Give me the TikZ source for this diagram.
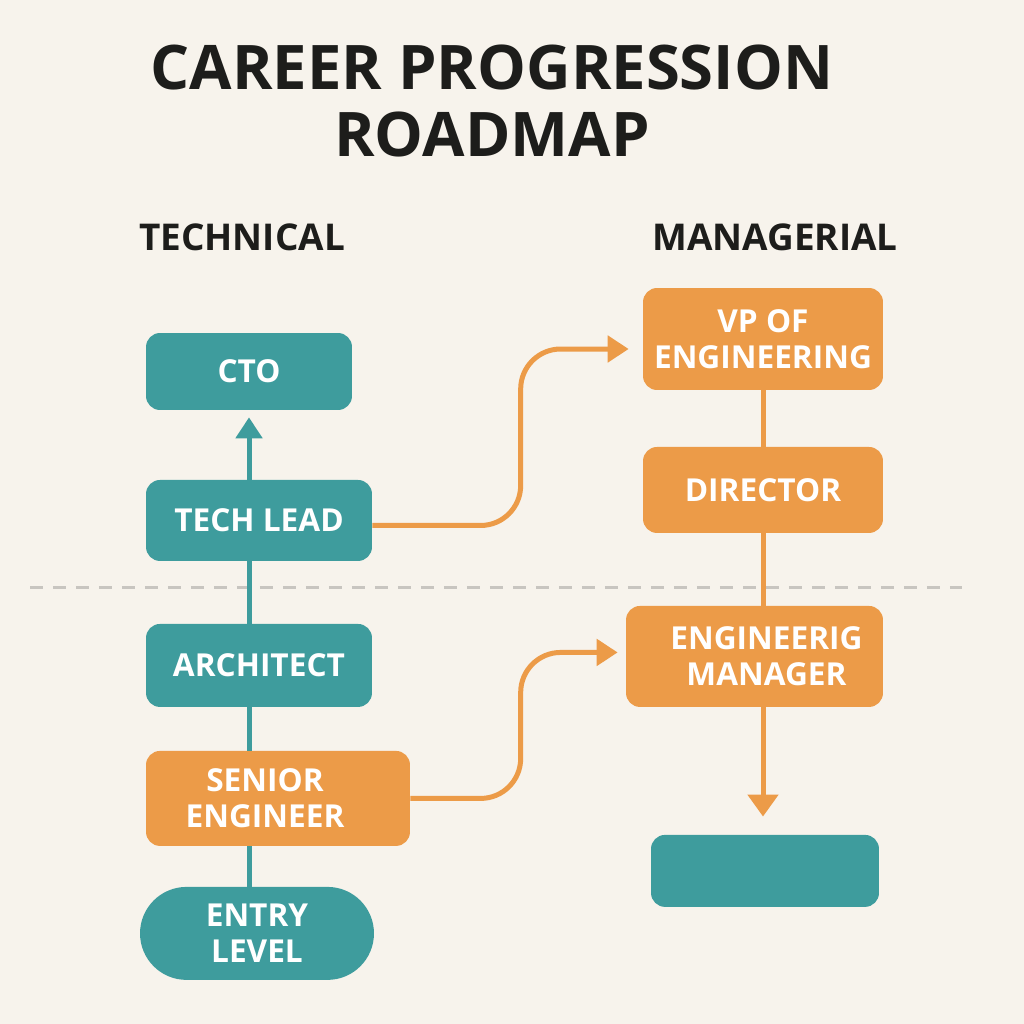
\documentclass[tikz,border=0pt]{standalone}
\usepackage{fontspec}
\setmainfont{Open Sans}
\usetikzlibrary{arrows.meta,positioning,calc}
\definecolor{techteal}{HTML}{3E9C9D}
\definecolor{mgrorange}{HTML}{EC9B48}
\definecolor{paper}{HTML}{F7F3EC}
\definecolor{ink}{HTML}{1D1D1B}
\definecolor{divider}{HTML}{C8C5C0}
\tikzset{
  basic/.style    = {rectangle, inner sep=0pt, align=center, text=white,
                     font=\fontsize{18}{20.5}\selectfont\bfseries},
  techbox/.style  = {basic, fill=techteal, rounded corners=0.28cm},
  mgrbox/.style   = {basic, fill=mgrorange, rounded corners=0.28cm},
  heading/.style  = {text=ink, font=\fontsize{21}{24}\selectfont\bfseries},
  maintitle/.style = {text=ink, align=center,
                     font=\fontsize{35}{38}\selectfont\bfseries},
  tline/.style    = {draw=techteal, line width=0.1cm},
  oline/.style    = {draw=mgrorange, line width=0.1cm}
}
\begin{document}
\begin{tikzpicture}[x=0.02cm, y=-0.02cm,
  >={Triangle[length=0.42cm, width=0.52cm]}]

\fill[paper] (0,0) rectangle (1024,1024);
\useasboundingbox (0,0) rectangle (1024,1024);

% titles
\node[maintitle] (title) at (492,101) {CAREER PROGRESSION\\ROADMAP};
\node[heading] (htech) at (242,237) {TECHNICAL};
\node[heading] (hmgr) at (775,237) {MANAGERIAL};

% separator
\coordinate (sepL) at (30,587);
\coordinate (sepR) at (962,587);
\draw[divider, line width=0.06cm, dash pattern=on 0.26cm off 0.2cm] (sepL) -- (sepR);

% technical track, from the top down
\node[techbox, minimum width=4.12cm, minimum height=1.54cm] (t1) at (249,371.5) {CTO};
\node[techbox, below of=t1, node distance=2.98cm, xshift=0.2cm,
      minimum width=4.52cm, minimum height=1.62cm] (t2) {TECH LEAD};
\node[techbox, below of=t2, node distance=2.9cm,
      minimum width=4.52cm, minimum height=1.66cm] (t3) {ARCHITECT};
\node[mgrbox, below of=t3, node distance=2.66cm, xshift=0.38cm,
      minimum width=5.28cm, minimum height=1.9cm] (t4)
      {\hspace*{-0.26cm}SENIOR\hspace*{0.26cm}\\\hspace*{-0.26cm}ENGINEER\hspace*{0.26cm}};
\node[techbox, below of=t4, node distance=2.7cm, xshift=-0.42cm,
      minimum width=4.68cm, minimum height=1.86cm, rounded corners=0.93cm] (t5) {ENTRY\\LEVEL};

% managerial track
\node[mgrbox, minimum width=4.8cm, minimum height=2.04cm] (m1) at (763,339) {VP OF\\ENGINEERING};
\node[mgrbox, below of=m1, node distance=3.02cm,
      minimum width=4.8cm, minimum height=1.72cm] (m2) {DIRECTOR};
\node[mgrbox, below of=m2, node distance=3.33cm, xshift=-0.17cm,
      minimum width=5.14cm, minimum height=2.02cm] (m3)
      {\hspace*{0.24cm}ENGINEERIG\hspace*{-0.24cm}\\\hspace*{0.24cm}MANAGER\hspace*{-0.24cm}};
\node[techbox, below of=m3, node distance=4.29cm, xshift=0.21cm,
      minimum width=4.56cm, minimum height=1.44cm] (m4) {};

\foreach \a/\b in {2/3,3/4,4/5}
  \draw[tline] (t\a.south -| t1) -- (t\b.north -| t1);
\draw[tline, ->, shorten >=0.14cm] (t2.north -| t1) -- (t1.south);

\foreach \a/\b in {1/2,2/3}
  \draw[oline] (m\a.south -| m1) -- (m\b.north -| m1);
\draw[oline, -{Triangle[length=0.44cm, width=0.6cm]}, shorten >=0.36cm]
  (m3.south -| m1) -- (m4.north -| m1);

% switching tracks
\draw[oline, ->, rounded corners=0.8cm] ([yshift=-0.1cm]t2.east)
  -| ($(m1.west)+(-122,10)$) -- ($(m1.west)+(-14,10)$);
\draw[oline, ->, rounded corners=0.8cm] (t4.east)
  -| ($(m3.west)+(-105,-4)$) -- ($(m3.west)+(-8,-4)$);

\end{tikzpicture}
\end{document}
